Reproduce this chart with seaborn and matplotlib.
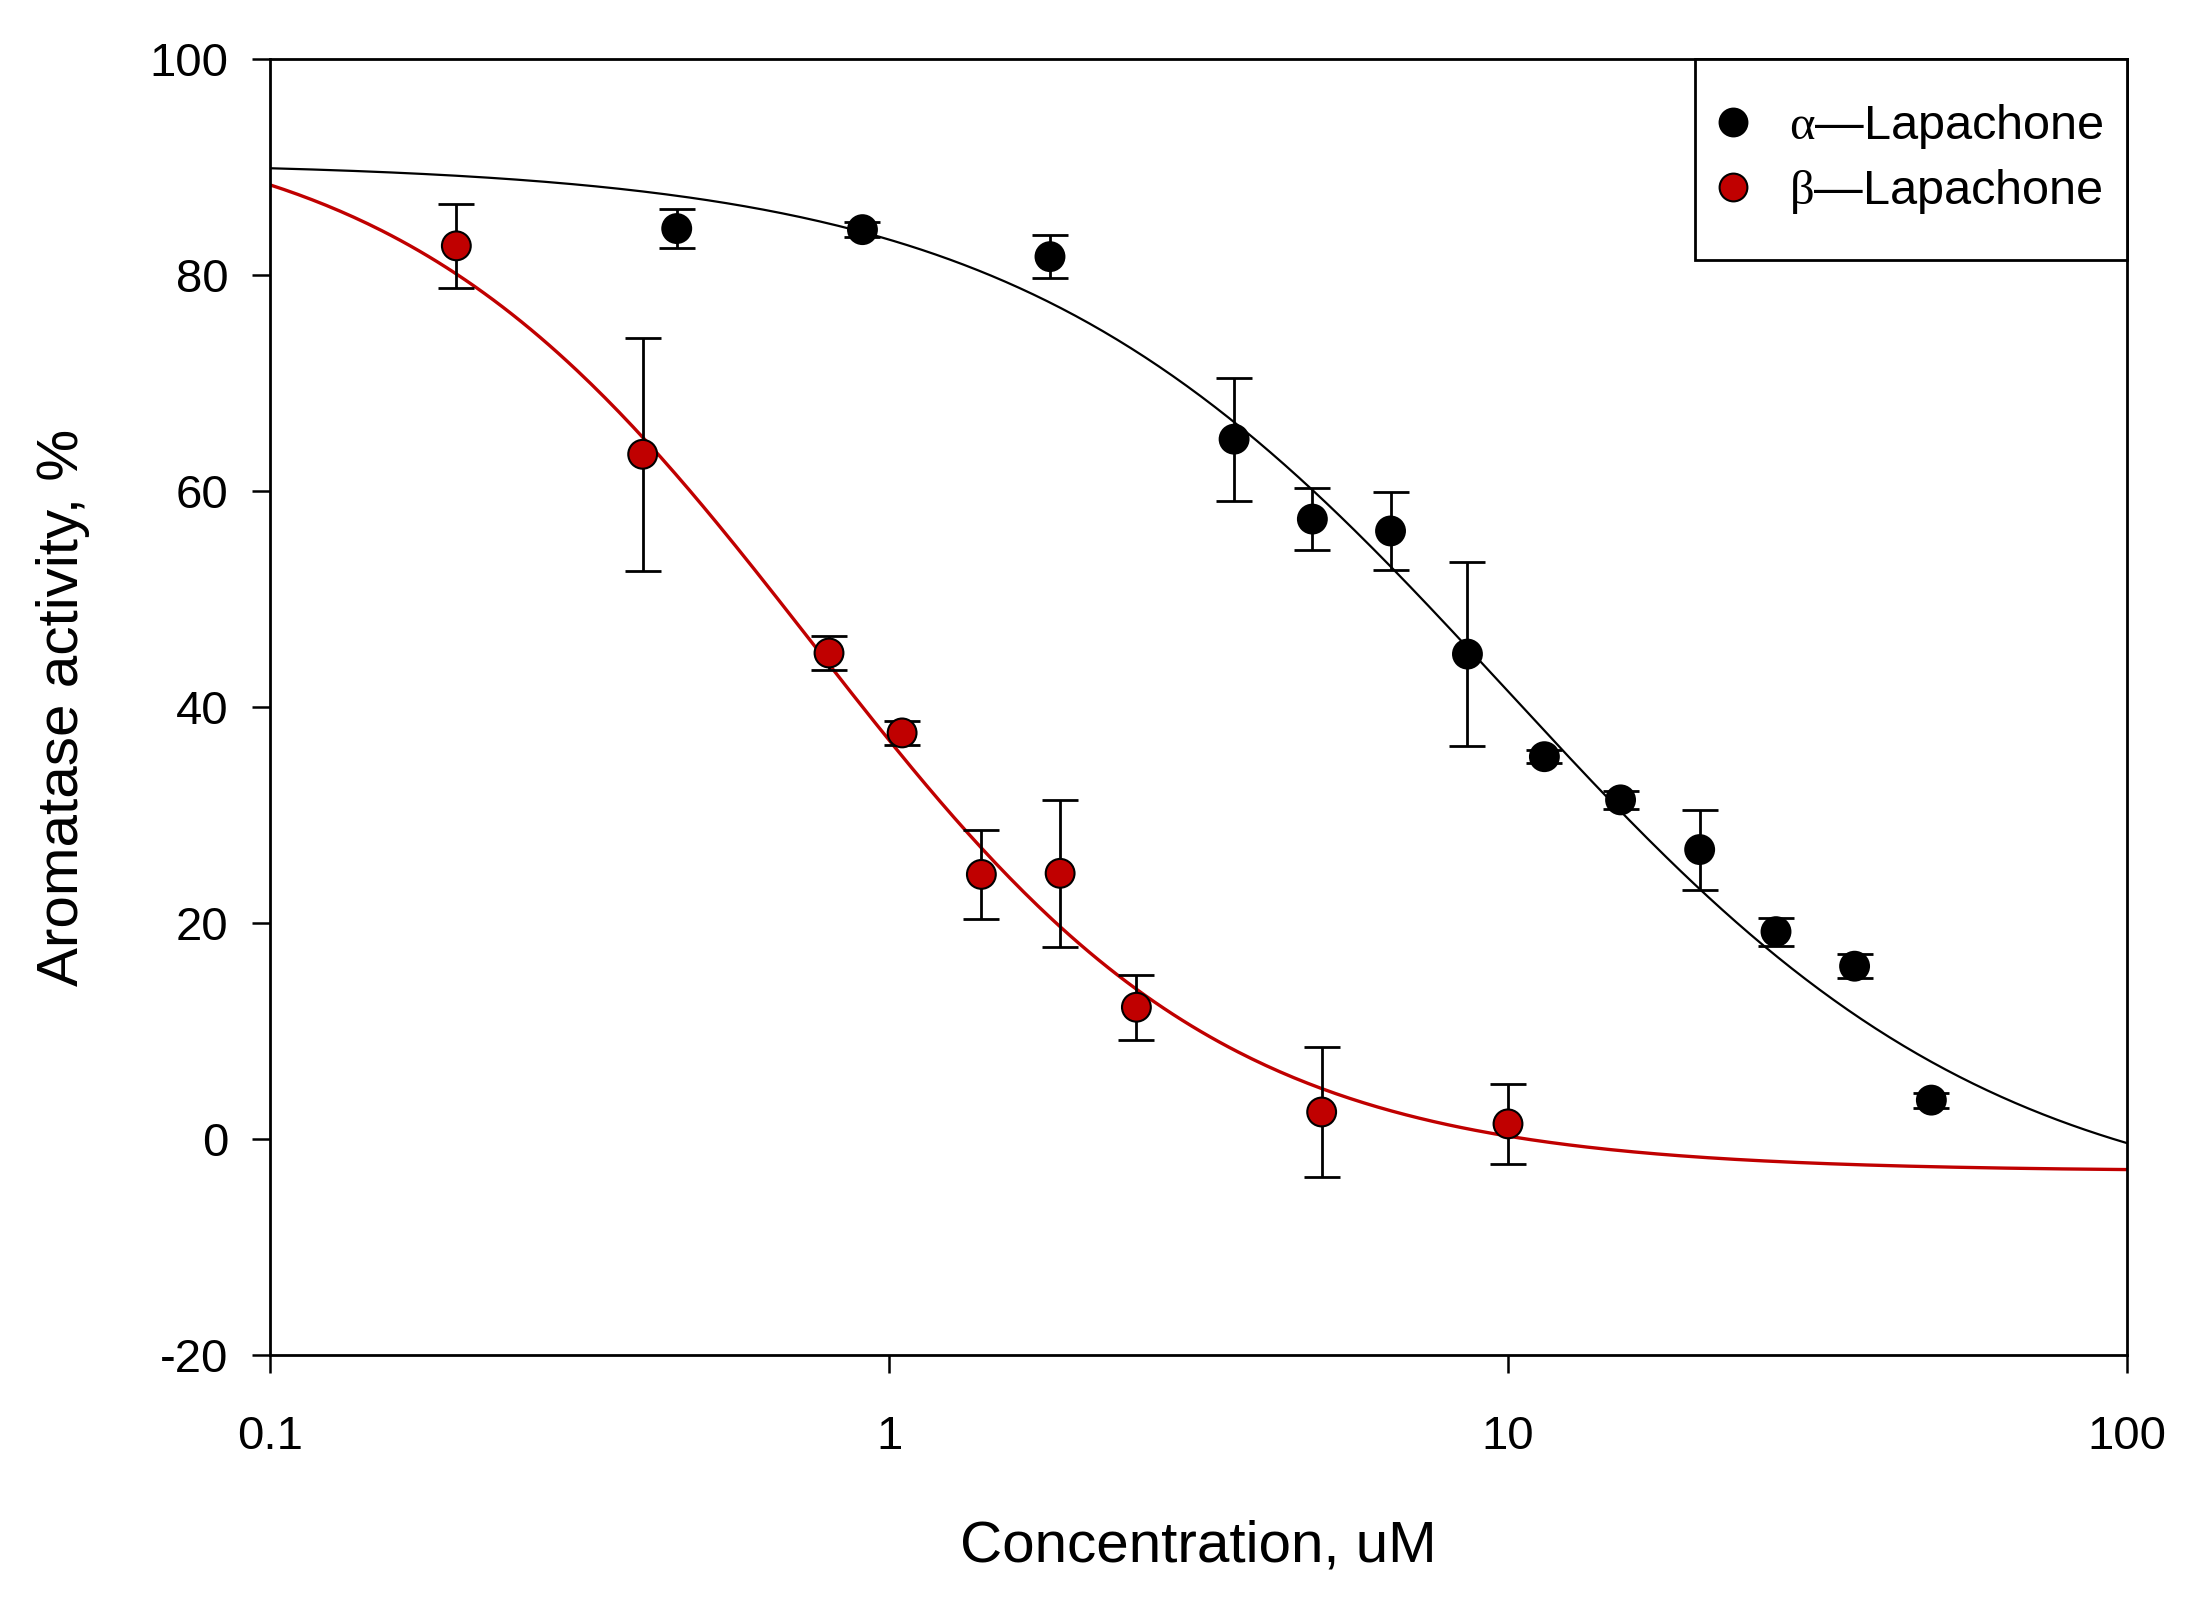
import numpy as np
import pandas as pd
import matplotlib
matplotlib.use("Agg")
import matplotlib.pyplot as plt
from matplotlib.lines import Line2D
from matplotlib.patches import Rectangle
import seaborn as sns

# ---------------- data ----------------
alpha_conc = [0.454, 0.906, 1.82, 3.61, 4.83, 6.46, 8.6, 11.45, 15.2, 20.4, 27.1, 36.3, 48.3]
alpha_act = [84.3, 84.2, 81.7, 64.8, 57.4, 56.3, 44.9, 35.4, 31.4, 26.8, 19.2, 16.0, 3.6]
alpha_err = [1.8, 0.7, 2.0, 5.7, 2.9, 3.6, 8.5, 0.6, 0.8, 3.7, 1.3, 1.1, 0.7]

beta_conc = [0.2, 0.4, 0.8, 1.05, 1.41, 1.89, 2.51, 5.0, 10.0]
beta_act = [82.7, 63.4, 45.0, 37.6, 24.5, 24.6, 12.2, 2.5, 1.4]
beta_err = [3.9, 10.8, 1.6, 1.1, 4.1, 6.8, 3.0, 6.0, 3.7]

# fitted 4-parameter logistic curves (top, bottom, IC50, hill)
alpha_fit = dict(top=90.5, bottom=-7.6, ic50=10.0, hill=1.1)
beta_fit = dict(top=95.0, bottom=-3.0, ic50=0.75, hill=1.3)

series_labels = [r"$\mathrm{\alpha}$" + "\u2014Lapachone", r"$\mathrm{\beta}$" + "\u2014Lapachone"]
x_ticks = [0.1, 1, 10, 100]
x_tick_labels = ["0.1", "1", "10", "100"]
y_ticks = [-20, 0, 20, 40, 60, 80, 100]

BLACK = "#000000"
RED = "#c00000"

# ---------------- style ----------------
sns.set_style("ticks")
plt.rcParams["font.family"] = ["Liberation Sans", "DejaVu Sans"]
plt.rcParams["mathtext.fontset"] = "custom"
plt.rcParams["mathtext.rm"] = "Liberation Serif"
plt.rcParams["mathtext.it"] = "Liberation Serif:italic"
plt.rcParams["axes.unicode_minus"] = False
plt.rcParams["text.color"] = BLACK
plt.rcParams["axes.labelcolor"] = BLACK

W, H, DPI = 2191, 1611, 100
fig = plt.figure(figsize=(W / DPI, H / DPI), dpi=DPI)
left, right, top, bottom = 270 / W, 2127 / W, 59 / H, 1355 / H
ax = fig.add_axes([left, 1 - bottom, right - left, bottom - top])


def logistic(x, top, bottom, ic50, hill):
    return bottom + (top - bottom) / (1.0 + (x / ic50) ** hill)


xgrid = np.logspace(-1, 2, 400)
curves = pd.concat([
    pd.DataFrame({"x": xgrid, "y": logistic(xgrid, **alpha_fit), "s": "alpha"}),
    pd.DataFrame({"x": xgrid, "y": logistic(xgrid, **beta_fit), "s": "beta"}),
])
sns.lineplot(data=curves[curves.s == "alpha"], x="x", y="y", color=BLACK,
             linewidth=1.6, ax=ax, zorder=2, legend=False)
sns.lineplot(data=curves[curves.s == "beta"], x="x", y="y", color=RED,
             linewidth=2.4, ax=ax, zorder=2, legend=False)

ax.errorbar(alpha_conc, alpha_act, yerr=alpha_err, fmt="none", ecolor=BLACK,
            elinewidth=2, capsize=13, capthick=2, zorder=3)
ax.errorbar(beta_conc, beta_act, yerr=beta_err, fmt="none", ecolor=BLACK,
            elinewidth=2, capsize=13, capthick=2, zorder=3)

pts = pd.concat([
    pd.DataFrame({"x": alpha_conc, "y": alpha_act, "s": series_labels[0]}),
    pd.DataFrame({"x": beta_conc, "y": beta_act, "s": series_labels[1]}),
])
sns.scatterplot(data=pts, x="x", y="y", hue="s",
                palette={series_labels[0]: BLACK, series_labels[1]: RED},
                s=430, edgecolor=BLACK, linewidth=1.5, ax=ax, zorder=4, legend=False)

ax.set_xscale("log")
ax.set_xlim(0.1, 100)
ax.set_ylim(-20, 100)
ax.set_xticks(x_ticks)
ax.set_xticklabels(x_tick_labels)
ax.xaxis.set_minor_locator(matplotlib.ticker.NullLocator())
ax.set_yticks(y_ticks)

for sp in ax.spines.values():
    sp.set_visible(True)
    sp.set_linewidth(2)
    sp.set_color(BLACK)

ax.tick_params(axis="both", which="major", direction="out", length=13, width=1.8,
               labelsize=34, colors=BLACK, labelcolor=BLACK)
ax.tick_params(axis="x", pad=30)
ax.tick_params(axis="y", pad=17)

ax.set_xlabel("Concentration, uM", fontsize=42)
ax.set_ylabel("Aromatase activity, %", fontsize=42)
ax.xaxis.set_label_coords(0.5, -0.127)
ax.xaxis.label.set_verticalalignment("top")
ax.yaxis.set_label_coords(-0.097, 0.5)

# legend frame (square box touching the top/right spines)
ax.add_patch(Rectangle((0.7675, 0.8448), 1 - 0.7675, 1 - 0.8448, transform=ax.transAxes,
                       facecolor="white", edgecolor=BLACK, linewidth=2, zorder=5,
                       clip_on=False))

handles = [
    Line2D([], [], marker="o", linestyle="none", markersize=20, markerfacecolor=BLACK,
           markeredgecolor=BLACK, markeredgewidth=1.5),
    Line2D([], [], marker="o", linestyle="none", markersize=20, markerfacecolor=RED,
           markeredgecolor=BLACK, markeredgewidth=1.5),
]
leg = ax.legend(handles, series_labels, loc="upper left", bbox_to_anchor=(0.772, 0.967),
                borderaxespad=0, borderpad=0, fontsize=35, frameon=False,
                handletextpad=0.55, labelspacing=0.33, handlelength=1.2)
leg.set_zorder(6)

fig.savefig("out.png", dpi=DPI, facecolor="white")
